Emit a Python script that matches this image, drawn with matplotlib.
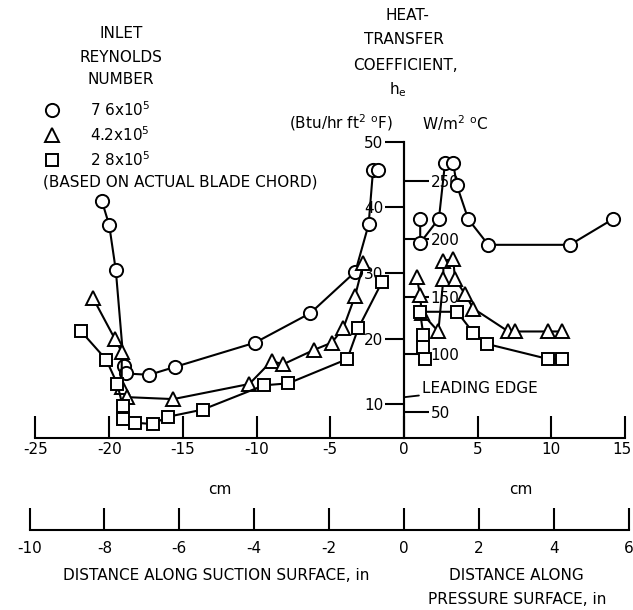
import matplotlib
matplotlib.use('Agg')
import matplotlib.pyplot as plt
from matplotlib import font_manager
from matplotlib.transforms import ScaledTranslation

names = {f.name for f in font_manager.fontManager.ttflist}
NARROW = 'Liberation Sans Narrow' in names
FAM = 'Liberation Sans Narrow' if NARROW else 'DejaVu Sans'
plt.rcParams['font.family'] = [FAM, 'DejaVu Sans']
plt.rcParams['axes.unicode_minus'] = False
FS = 13.5 if NARROW else 11

# ---------------- data (x: cm along surface, y: Btu/hr ft2 F) ----------------
# Suction surface (negative x)
cs_x = [-20.5, -20.0, -19.55, -19.0, -18.86, -17.28, -15.54, -10.1, -6.35, -3.3, -2.4, -2.1, -1.75]
cs_y = [41.0, 37.3, 30.4, 15.8, 14.7, 14.5, 15.7, 19.4, 23.9, 30.2, 37.4, 45.7, 45.7]
ts_x = [-21.1, -19.6, -19.15, -19.15, -18.8, -15.65, -10.5, -8.98, -8.2, -6.1, -4.9, -4.12, -3.32, -2.75]
ts_y = [26.2, 19.9, 18.0, 12.7, 11.1, 10.8, 13.1, 16.6, 16.1, 18.3, 19.4, 21.6, 26.5, 31.5]
ss_x = [-21.9, -20.2, -19.45, -19.08, -19.08, -18.25, -17.05, -16.03, -13.66, -9.5, -7.85, -3.85, -3.1, -1.5]
ss_y = [21.1, 16.8, 13.1, 9.7, 7.7, 7.2, 7.0, 8.1, 9.2, 12.9, 13.2, 16.9, 21.6, 28.6]
# Pressure surface (positive x)
cp_x = [1.1, 1.1, 2.37, 2.78, 3.34, 3.58, 4.36, 5.72, 11.26, 14.16]
cp_y = [38.3, 34.6, 38.3, 46.7, 46.7, 43.4, 38.2, 34.3, 34.3, 38.2]
tp_x = [0.86, 1.09, 1.2, 2.33, 2.67, 2.67, 3.34, 3.46, 4.14, 4.7, 7.08, 7.53, 9.79, 10.7]
tp_y = [29.4, 26.7, 23.9, 21.1, 29.1, 31.9, 32.1, 29.1, 26.8, 24.6, 21.1, 21.1, 21.1, 21.1]
sp_x = [1.45, 1.31, 1.31, 1.09, 3.6, 4.7, 5.63, 9.79, 10.7]
sp_y = [16.9, 18.8, 20.6, 24.1, 24.1, 20.9, 19.2, 16.9, 16.9]

series_labels = ['7 6x10$\\mathregular{^5}$', '4.2x10$\\mathregular{^5}$', '2 8x10$\\mathregular{^5}$']
markers = ['o', '^', 's']
msizes = [9.5, 10.5, 9]

cm_ticks = [-25, -20, -15, -10, -5, 0, 5, 10, 15]
in_ticks = [-10, -8, -6, -4, -2, 0, 2, 4, 6]
btu_ticks = [10, 20, 30, 40, 50]
w_ticks = [50, 100, 150, 200, 250]
BTU2W = 5.678

# ---------------- layout ----------------
W, H = 633, 610
fig = plt.figure(figsize=(W / 100, H / 100), dpi=100)
fig.patch.set_facecolor('white')

def fx(px):
    return px / W

def fy(py):
    return 1 - py / H

PX0, PXS = 404.0, 14.74      # pixel of x=0 cm, px per cm
PY0, PYS = 470.0, 6.565      # pixel of y=0 Btu, px per Btu
XL, XR = -25, 15
YB, YT = 4.87, 50.0
x0, x1 = PX0 + PXS * XL, PX0 + PXS * XR
ytop, ybot = PY0 - PYS * YT, PY0 - PYS * YB

ax = fig.add_axes([fx(x0), fy(ybot), (x1 - x0) / W, (ybot - ytop) / H])
ax.set_facecolor('none')
ax.set_xlim(XL, XR)
ax.set_ylim(YB, YT)
for s in ['top', 'right']:
    ax.spines[s].set_visible(False)
ax.spines['left'].set_position(('data', 0))
for s in ['left', 'bottom']:
    ax.spines[s].set_linewidth(1.5)

ax.set_xticks(cm_ticks)
ax.set_xticklabels([str(t) for t in cm_ticks])
ax.tick_params(axis='x', direction='in', length=16, width=1.5, pad=3, labelsize=FS)
last = ax.get_xticklabels()[-1]
last.set_ha('right')
last.set_transform(last.get_transform() + ScaledTranslation(6 / 100, 0, fig.dpi_scale_trans))
ax.set_yticks(btu_ticks)
ax.set_yticklabels([str(t) for t in btu_ticks])
ax.tick_params(axis='y', direction='out', length=14, width=1.5, pad=1, labelsize=FS)

sec = ax.secondary_yaxis(-XL / (XR - XL), functions=(lambda b: b * BTU2W, lambda w: w / BTU2W))
sec.set_yticks(w_ticks)
sec.set_yticklabels([str(t) for t in w_ticks])
sec.tick_params(axis='y', direction='out', length=18, width=1.5, pad=1, labelsize=FS)
for s in sec.spines.values():
    s.set_linewidth(1.5)

groups = [(cs_x, cs_y, cp_x, cp_y), (ts_x, ts_y, tp_x, tp_y), (ss_x, ss_y, sp_x, sp_y)]
for (sx, sy, px, py), m, ms in zip(groups, markers, msizes):
    for xx, yy in ((sx, sy), (px, py)):
        ax.plot(xx, yy, color='black', lw=1.5, marker=m, ms=ms, mfc='white',
                mec='black', mew=1.4, clip_on=False, zorder=3)

ax.annotate('LEADING EDGE', xy=(0.05, 11.1), xytext=(1.2, 12.4), fontsize=FS,
            va='center', ha='left',
            arrowprops=dict(arrowstyle='-', lw=1.3, color='black', shrinkA=0, shrinkB=0))

# inch axis
ix0 = PX0 + PXS * 2.54 * in_ticks[0]
ix1 = PX0 + PXS * 2.54 * in_ticks[-1]
ax2 = fig.add_axes([fx(ix0), fy(530), (ix1 - ix0) / W, 0.001])
ax2.set_facecolor('none')
ax2.set_xlim(in_ticks[0], in_ticks[-1])
for s in ['top', 'right', 'left']:
    ax2.spines[s].set_visible(False)
ax2.spines['bottom'].set_linewidth(1.5)
ax2.set_yticks([])
ax2.set_xticks(in_ticks)
ax2.set_xticklabels([str(t) for t in in_ticks])
ax2.tick_params(axis='x', direction='in', length=16, width=1.5, pad=8, labelsize=FS)

# ---------------- texts ----------------
def t(px, py, s, ha='center', va='center', **kw):
    fig.text(fx(px), fy(py), s, ha=ha, va=va, fontsize=FS, **kw)

t(121, 33, 'INLET')
t(121, 57, 'REYNOLDS')
t(121, 80, 'NUMBER')
rows_y = [110, 135, 160]
lax = fig.add_axes([0, 0, 1, 1])
lax.set_xlim(0, W)
lax.set_ylim(H, 0)
lax.axis('off')
for ry, m, ms, lab in zip(rows_y, markers, msizes, series_labels):
    lax.plot([52], [ry], marker=m, ms=ms, mfc='white', mec='black', mew=1.4, ls='none')
    t(90, ry, lab, ha='left')
t(43, 182, '(BASED ON ACTUAL BLADE CHORD)', ha='left')

t(407, 15, 'HEAT-')
t(404, 40, 'TRANSFER')
t(405, 65, 'COEFFICIENT,')
t(398, 90, 'h$\\mathregular{_e}$')
t(393, 123, '(Btu/hr ft$\\mathregular{^2}$ $\\mathregular{^o}$F)', ha='right')
t(455, 123, 'W/m$\\mathregular{^2}$ $\\mathregular{^o}$C')

t(220, 490, 'cm')
t(521, 490, 'cm')
t(216, 576, 'DISTANCE ALONG SUCTION SURFACE, in')
t(516, 576, 'DISTANCE ALONG')
t(517, 600, 'PRESSURE SURFACE, in')

fig.savefig('out.png', dpi=100, facecolor='white')
